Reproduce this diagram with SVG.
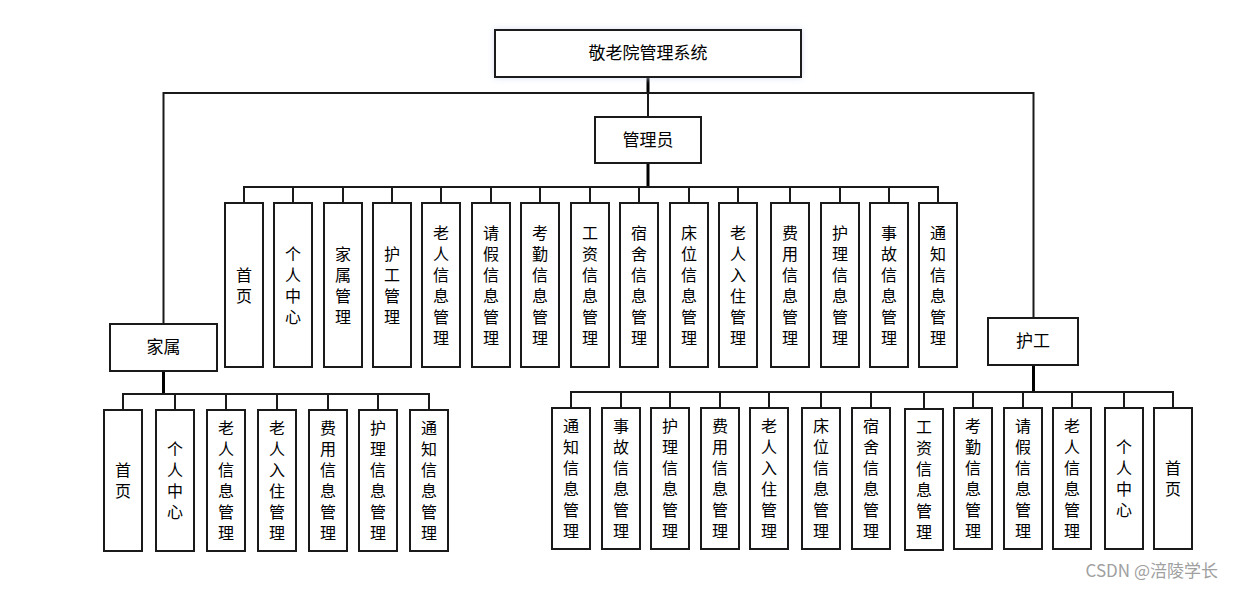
<svg xmlns="http://www.w3.org/2000/svg" width="1234" height="589" viewBox="0 0 1234 589">
<style>
.box{fill:#fff;stroke:#1a1a1a;stroke-width:2}
.t{font-family:"Noto Sans CJK SC","Noto Sans",sans-serif;font-size:16px;fill:#000;text-anchor:middle;writing-mode:vertical-rl;letter-spacing:5px}
.tl{font-family:"Noto Sans CJK SC","Noto Sans",sans-serif;font-size:17px;fill:#000;text-anchor:middle}
.ln{fill:none;stroke:#1a1a1a;stroke-width:2}
.thick{fill:none;stroke:#000;stroke-width:3}
.wm{font-family:"Noto Sans CJK SC","Noto Sans",sans-serif;font-size:17px;fill:#a0a0a0;text-anchor:end}
</style>
<defs>
<filter id="sh" x="-10%" y="-30%" width="120%" height="160%">
<feDropShadow dx="0" dy="0" stdDeviation="3" flood-color="#cfd8f0" flood-opacity="0.8"/>
</filter>
</defs>
<rect width="1234" height="589" fill="#fff"/>
<g id="connectors">
<path class="thick" d="M648 77V93"/>
<path class="ln" d="M163.5 93H1033.5M163.5 92V324M1033.5 92V318M648 93V117"/>
<path class="thick" d="M648 163V187"/>
<path class="ln" d="M244 187H939"/>
<path class="ln" d="M244 186V203M293 186V203M343 186V203M392 186V203M441 186V203M491 186V203M540 186V203M590 186V203M639 186V203M689 186V203M738 186V203M790 186V203M840 186V203M889 186V203M938 186V203"/>
<path class="thick" d="M163.5 372V394"/>
<path class="ln" d="M123 394H429"/>
<path class="ln" d="M123 393V410M175 393V410M226 393V410M277 393V410M328 393V410M378 393V410M429 393V410"/>
<path class="thick" d="M1033.5 365V392"/>
<path class="ln" d="M571 392H1173"/>
<path class="ln" d="M571 391V408M621 391V408M670 391V408M720 391V408M769 391V408M821 391V408M871 391V408M924 391V408M973 391V408M1023 391V408M1072 391V408M1124 391V408M1173 391V408"/>
</g>
<g id="root"><rect class="box" x="495" y="30" width="306" height="47" filter="url(#sh)"/><text class="tl" x="648" y="59">敬老院管理系统</text></g>
<g id="admin"><rect class="box" x="595" y="117" width="106" height="46"/><text class="tl" x="648" y="146">管理员</text></g>
<g id="family"><rect class="box" x="110" y="324" width="107" height="47"/><text class="tl" x="163.5" y="353">家属</text></g>
<g id="worker"><rect class="box" x="988" y="318" width="90" height="47"/><text class="tl" x="1033" y="347">护工</text></g>

<g id="a1"><rect class="box" x="225" y="203" width="38" height="164"/><text class="t" x="244" y="287.5">首页</text></g>
<g id="a2"><rect class="box" x="274" y="203" width="38" height="164"/><text class="t" x="293" y="287.5">个人中心</text></g>
<g id="a3"><rect class="box" x="324" y="203" width="38" height="164"/><text class="t" x="343" y="287.5">家属管理</text></g>
<g id="a4"><rect class="box" x="373" y="203" width="38" height="164"/><text class="t" x="392" y="287.5">护工管理</text></g>
<g id="a5"><rect class="box" x="422" y="203" width="38" height="164"/><text class="t" x="441" y="287.5">老人信息管理</text></g>
<g id="a6"><rect class="box" x="472" y="203" width="38" height="164"/><text class="t" x="491" y="287.5">请假信息管理</text></g>
<g id="a7"><rect class="box" x="521" y="203" width="38" height="164"/><text class="t" x="540" y="287.5">考勤信息管理</text></g>
<g id="a8"><rect class="box" x="571" y="203" width="38" height="164"/><text class="t" x="590" y="287.5">工资信息管理</text></g>
<g id="a9"><rect class="box" x="620" y="203" width="38" height="164"/><text class="t" x="639" y="287.5">宿舍信息管理</text></g>
<g id="a10"><rect class="box" x="670" y="203" width="38" height="164"/><text class="t" x="689" y="287.5">床位信息管理</text></g>
<g id="a11"><rect class="box" x="719" y="203" width="38" height="164"/><text class="t" x="738" y="287.5">老人入住管理</text></g>
<g id="a12"><rect class="box" x="771" y="203" width="38" height="164"/><text class="t" x="790" y="287.5">费用信息管理</text></g>
<g id="a13"><rect class="box" x="821" y="203" width="38" height="164"/><text class="t" x="840" y="287.5">护理信息管理</text></g>
<g id="a14"><rect class="box" x="870" y="203" width="38" height="164"/><text class="t" x="889" y="287.5">事故信息管理</text></g>
<g id="a15"><rect class="box" x="919" y="203" width="38" height="164"/><text class="t" x="938" y="287.5">通知信息管理</text></g>

<g id="f1"><rect class="box" x="104" y="410" width="38" height="141"/><text class="t" x="123" y="483">首页</text></g>
<g id="f2"><rect class="box" x="156" y="410" width="38" height="141"/><text class="t" x="175" y="483">个人中心</text></g>
<g id="f3"><rect class="box" x="207" y="410" width="38" height="141"/><text class="t" x="226" y="483">老人信息管理</text></g>
<g id="f4"><rect class="box" x="258" y="410" width="38" height="141"/><text class="t" x="277" y="483">老人入住管理</text></g>
<g id="f5"><rect class="box" x="309" y="410" width="38" height="141"/><text class="t" x="328" y="483">费用信息管理</text></g>
<g id="f6"><rect class="box" x="359" y="410" width="38" height="141"/><text class="t" x="378" y="483">护理信息管理</text></g>
<g id="f7"><rect class="box" x="410" y="410" width="38" height="141"/><text class="t" x="429" y="483">通知信息管理</text></g>

<g id="w1"><rect class="box" x="552" y="408" width="38" height="141"/><text class="t" x="571" y="481">通知信息管理</text></g>
<g id="w2"><rect class="box" x="602" y="408" width="38" height="141"/><text class="t" x="621" y="481">事故信息管理</text></g>
<g id="w3"><rect class="box" x="651" y="408" width="38" height="141"/><text class="t" x="670" y="481">护理信息管理</text></g>
<g id="w4"><rect class="box" x="701" y="408" width="38" height="141"/><text class="t" x="720" y="481">费用信息管理</text></g>
<g id="w5"><rect class="box" x="750" y="408" width="38" height="141"/><text class="t" x="769" y="481">老人入住管理</text></g>
<g id="w6"><rect class="box" x="802" y="408" width="38" height="141"/><text class="t" x="821" y="481">床位信息管理</text></g>
<g id="w7"><rect class="box" x="852" y="408" width="38" height="141"/><text class="t" x="871" y="481">宿舍信息管理</text></g>
<g id="w8"><rect class="box" x="905" y="409" width="38" height="141"/><text class="t" x="924" y="482">工资信息管理</text></g>
<g id="w9"><rect class="box" x="954" y="408" width="38" height="141"/><text class="t" x="973" y="481">考勤信息管理</text></g>
<g id="w10"><rect class="box" x="1004" y="408" width="38" height="141"/><text class="t" x="1023" y="481">请假信息管理</text></g>
<g id="w11"><rect class="box" x="1053" y="408" width="38" height="141"/><text class="t" x="1072" y="481">老人信息管理</text></g>
<g id="w12"><rect class="box" x="1105" y="408" width="38" height="141"/><text class="t" x="1124" y="481">个人中心</text></g>
<g id="w13"><rect class="box" x="1154" y="408" width="38" height="141"/><text class="t" x="1173" y="481">首页</text></g>

<text class="wm" x="1218" y="577">CSDN @涪陵学长</text>
</svg>
